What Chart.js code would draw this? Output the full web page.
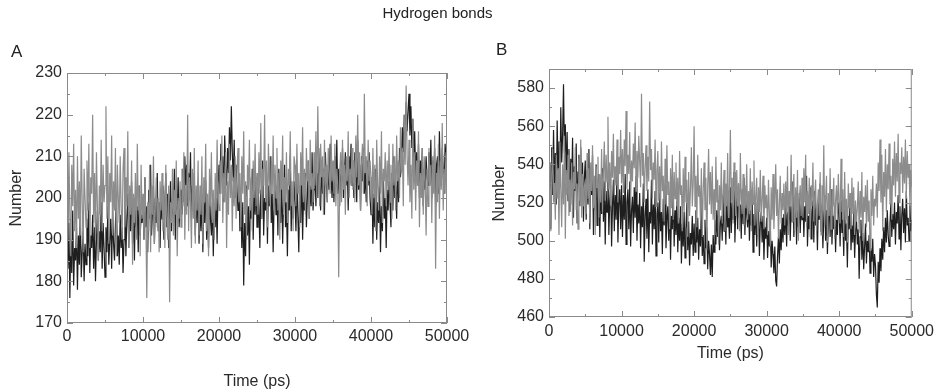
<!DOCTYPE html>
<html>
<head>
<meta charset="utf-8">
<script src="https://cdn.jsdelivr.net/npm/chart.js@4.4.0/dist/chart.umd.min.js"></script>
<style>
body{margin:0;background:#fff;font-family:"Liberation Sans",Arial,sans-serif;}
#wrap{position:relative;width:939px;height:391px;overflow:hidden;background:#fff;}
canvas{position:absolute;top:0;}
#chartA{left:0;}
#chartB{left:470px;}
.lbl{position:absolute;color:#222;line-height:1;}
</style>
</head>
<body>
<div id="wrap">
  <canvas id="chartA" width="480" height="391"></canvas>
  <canvas id="chartB" width="469" height="391"></canvas>
  <div class="lbl" style="left:0;width:875px;top:5px;text-align:center;font-size:15px;">Hydrogen bonds</div>
  <div class="lbl" style="left:11px;top:43px;font-size:17px;">A</div>
  <div class="lbl" style="left:496px;top:41px;font-size:17px;">B</div>
</div>
<script>
// sampling interval of the traces (ps)
const TIME_STEP = 125;

const X_TICKS = [0, 10000, 20000, 30000, 40000, 50000];
const A_Y_TICKS = [170, 180, 190, 200, 210, 220, 230];
const B_Y_TICKS = [460, 480, 500, 520, 540, 560, 580];

// panel A, black trace (one row = 2500 ps)
const hbondsA_black = [
    200,183,194,176,190,182,197,179,188,185,193,178,191,184,198,181,187,192,180,189,
    184,195,186,199,182,191,188,196,183,193,180,190,197,185,192,187,199,183,194,188,
    181,193,187,198,184,190,195,183,197,189,185,194,200,186,191,184,196,188,193,182,
    190,199,186,195,201,188,197,192,204,189,196,185,200,193,198,187,203,191,196,194,
    199,190,205,193,198,187,202,195,208,191,197,203,189,200,194,206,192,199,188,201,
    195,203,190,199,206,193,201,188,198,204,192,200,196,207,190,202,197,205,193,199,
    202,196,207,199,210,203,208,198,206,201,211,195,203,197,206,191,200,194,203,189,
    198,192,201,187,199,194,204,190,197,188,202,195,191,199,186,197,193,200,189,203,
    208,201,213,205,210,199,215,207,203,212,206,217,209,222,211,204,214,200,208,202,
    197,206,192,201,188,199,179,194,186,203,191,198,184,200,195,207,190,202,196,205,
    193,204,198,188,202,195,209,191,200,197,206,189,203,198,210,194,201,187,199,205,
    196,203,191,207,198,194,205,189,200,208,193,199,186,202,197,210,192,201,195,204,
    199,192,205,196,187,203,194,208,190,201,197,206,193,200,209,195,203,198,211,197,
    202,208,198,206,200,212,203,197,209,201,207,196,211,204,199,208,202,213,205,200,
    206,199,210,203,214,201,207,198,209,204,212,200,206,211,203,208,197,210,205,213,
    203,209,200,211,205,199,214,202,208,197,210,204,212,201,206,199,209,203,211,200,
    196,205,189,201,193,207,190,199,194,203,187,198,192,206,195,200,188,202,197,204,
    199,193,206,197,210,200,203,195,208,199,212,205,209,217,211,220,214,223,216,221,
    225,215,222,212,219,208,216,205,211,203,213,200,209,204,212,198,207,202,210,205,
    203,211,206,214,200,209,204,212,198,208,210,201,216,205,203,212,207,201,213,209,
    206
];

// panel A, grey trace
const hbondsA_grey = [
    205,190,211,196,186,208,198,213,192,202,188,210,195,204,191,215,199,187,207,200,
    193,209,197,213,188,205,201,220,194,206,190,211,198,185,203,196,214,192,208,199,
    203,222,195,210,189,206,199,215,191,204,197,212,186,208,200,194,210,198,190,207,
    212,193,205,198,216,188,203,196,209,184,201,194,206,190,213,197,203,186,208,195,
    201,190,205,195,176,199,192,208,187,203,196,210,189,198,205,193,200,187,204,197,
    206,192,201,188,208,196,190,203,175,199,194,207,191,202,196,209,186,200,195,204,
    193,207,198,211,190,203,196,220,192,205,199,188,207,195,212,189,203,197,209,191,
    203,196,210,189,205,199,213,192,201,186,207,198,211,194,202,190,206,197,214,200,
    197,209,201,215,194,206,199,211,188,204,196,213,200,208,192,205,198,210,195,207,
    212,199,206,193,210,201,216,196,204,190,208,202,214,197,205,192,209,200,213,198,
    206,196,211,201,218,195,207,203,220,199,209,193,213,204,198,210,201,215,197,208,
    200,212,197,206,190,209,202,215,196,205,199,211,194,207,203,216,198,204,192,210,
    208,198,213,201,206,193,211,203,217,199,207,196,212,204,209,195,214,202,206,199,
    211,203,216,200,222,207,198,213,205,210,196,214,203,208,199,212,206,201,215,204,
    209,201,213,198,207,203,181,205,211,199,214,202,208,196,210,204,216,200,207,203,
    212,202,209,199,215,205,220,203,211,197,208,213,201,225,206,210,198,214,204,209,
    205,196,212,200,208,192,214,203,197,210,201,216,194,207,204,211,198,209,202,213,
    199,208,195,213,203,210,197,215,204,209,200,217,206,212,198,220,208,227,210,203,
    214,199,208,195,219,202,211,197,209,203,216,193,206,200,212,196,210,204,191,207,
    198,212,203,208,194,210,201,215,183,206,199,213,195,209,202,218,197,207,201,211,
    205
];

// panel B, black trace
const hbondsB_black = [
    512,541,506,549,524,558,530,546,519,563,537,552,528,570,541,555,582,546,561,532,
    557,521,548,515,543,530,554,512,539,526,551,509,536,545,518,549,522,541,510,533,
    542,511,537,519,548,506,532,524,545,503,530,516,540,508,527,535,502,529,514,538,
    510,531,498,526,515,536,503,521,529,497,518,532,505,524,511,538,499,520,527,506,
    529,502,524,511,535,498,520,527,506,531,497,516,523,504,528,512,534,500,519,509,
    525,496,518,507,530,489,513,522,501,527,494,515,509,532,498,519,506,526,492,514,
    520,499,526,505,515,493,522,508,529,496,511,518,500,524,490,513,506,527,497,516,
    503,521,494,512,500,518,488,509,497,515,491,506,520,495,510,487,504,498,513,492,
    509,494,516,499,512,490,506,497,518,492,503,488,511,496,507,485,500,493,482,498,
    481,503,494,511,498,516,502,521,495,509,513,500,524,505,517,498,526,507,512,501,
    528,504,520,511,536,499,517,525,506,530,512,519,501,527,509,533,503,521,514,507,
    522,500,516,508,527,494,514,503,520,497,511,518,492,509,515,499,513,490,507,501,
    512,491,505,497,509,486,500,493,483,497,479,476,492,502,488,506,495,512,499,514,
    503,520,497,515,508,526,500,518,510,531,502,514,521,498,516,507,525,504,519,511,
    524,502,518,510,534,497,513,506,528,501,515,521,499,526,508,517,495,520,511,530,
    505,519,496,512,524,500,516,493,509,521,502,527,498,513,506,518,494,511,503,520,
    515,497,521,504,511,492,518,500,509,486,513,506,522,495,508,499,516,491,505,512,
    498,506,480,502,511,490,504,485,497,509,488,500,494,503,483,496,489,501,481,493,
    487,472,465,489,478,496,484,501,490,507,494,512,499,516,503,497,509,520,502,514,
    506,520,498,515,509,524,501,518,495,513,522,504,517,499,526,508,512,500,519,505,
    511
];

// panel B, grey trace
const hbondsB_grey = [
    512,541,505,534,548,520,530,511,545,522,538,503,552,527,507,540,519,555,501,537,
    524,545,513,532,519,541,508,536,527,549,516,530,506,543,521,553,512,535,518,529,
    531,514,546,522,538,509,541,526,550,517,534,503,539,528,544,512,535,520,548,515,
    536,552,521,545,531,565,527,541,518,547,533,556,524,539,529,553,520,544,535,558,
    530,548,525,553,539,568,527,545,535,557,522,542,531,551,538,562,526,547,533,555,
    541,528,577,534,546,520,539,550,526,544,531,573,537,548,522,541,532,553,518,536,
    547,521,539,515,552,526,534,510,543,519,550,524,531,506,538,517,545,511,536,522,
    541,518,533,509,547,524,529,505,538,515,544,520,532,502,536,513,527,549,518,530,
    560,518,534,507,545,523,529,511,538,502,526,541,516,533,495,528,548,519,536,514,
    539,511,527,503,544,520,532,498,529,516,541,509,524,537,505,530,518,546,512,527,
    558,520,533,509,541,525,513,537,518,530,505,546,522,514,535,508,529,517,540,511,
    526,514,538,505,531,519,542,508,524,533,503,528,515,537,510,522,534,506,529,517,
    524,503,532,515,497,528,511,535,506,521,540,513,527,501,519,534,509,525,516,530,
    508,531,514,539,503,526,518,545,510,523,535,505,528,512,537,500,522,529,513,533,
    512,538,520,545,507,526,514,533,502,529,518,541,510,524,532,505,519,527,513,536,
    503,529,516,550,508,522,534,499,525,513,538,506,527,518,533,501,521,529,511,535,
    520,509,543,515,527,502,536,511,522,499,530,517,525,506,533,514,528,503,521,510,
    517,531,504,526,512,536,500,523,515,529,507,532,510,521,495,527,513,534,508,522,
    518,530,512,541,526,553,520,545,505,536,523,548,515,540,527,551,519,534,511,543,
    529,552,523,546,531,556,520,541,535,549,525,544,530,553,522,547,533,540,518,537,
    528
];

const BLACK = '#1e1e1e';
const GREY = '#8c8c8c';
const FRAME_COLOR = '#8a8a8a';
const TEXT_COLOR = '#2a2a2a';
const FONT = '"Liberation Sans", Arial, sans-serif';

// frame round the plot with inward major/minor ticks on every side
const frameTicks = {
    id: 'frameTicks',
    afterDatasetsDraw(chart) {
        let ctx = chart.ctx;
        let area = chart.chartArea;
        let xs = chart.scales.x;
        let ys = chart.scales.y;
        ctx.save();
        ctx.strokeStyle = FRAME_COLOR;
        ctx.lineWidth = 1;
        ctx.strokeRect(area.left + 0.5, area.top + 0.5, area.right - area.left - 1, area.bottom - area.top - 1);
        ctx.beginPath();
        let xv = xs.ticks.map(t => t.value);
        let yv = ys.ticks.map(t => t.value);
        for (let i = 0; i < xv.length; i++) {
            let px = Math.round(xs.getPixelForValue(xv[i])) + 0.5;
            ctx.moveTo(px, area.bottom); ctx.lineTo(px, area.bottom - 6);
            ctx.moveTo(px, area.top); ctx.lineTo(px, area.top + 6);
            if (i < xv.length - 1) {
                let mx = Math.round(xs.getPixelForValue((xv[i] + xv[i + 1]) / 2)) + 0.5;
                ctx.moveTo(mx, area.bottom); ctx.lineTo(mx, area.bottom - 3);
                ctx.moveTo(mx, area.top); ctx.lineTo(mx, area.top + 3);
            }
        }
        for (let i = 0; i < yv.length; i++) {
            let py = Math.round(ys.getPixelForValue(yv[i])) + 0.5;
            ctx.moveTo(area.left, py); ctx.lineTo(area.left + 6, py);
            ctx.moveTo(area.right, py); ctx.lineTo(area.right - 6, py);
            if (i < yv.length - 1) {
                let my = Math.round(ys.getPixelForValue((yv[i] + yv[i + 1]) / 2)) + 0.5;
                ctx.moveTo(area.left, my); ctx.lineTo(area.left + 3, my);
                ctx.moveTo(area.right, my); ctx.lineTo(area.right - 3, my);
            }
        }
        ctx.stroke();
        ctx.restore();
    }
};

function toPoints(values){
    return values.map((v, i) => ({x: i * TIME_STEP, y: v}));
}

function makeOptions(p){
    return {
        responsive: false,
        animation: false,
        devicePixelRatio: 1,
        layout: {padding: p.padding},
        elements: {
            point: {radius: 0},
            line: {borderWidth: 1.2, tension: 0}
        },
        plugins: {
            legend: {display: false},
            tooltip: {enabled: false}
        },
        scales: {
            x: {
                type: 'linear',
                min: 0,
                max: 50000,
                afterBuildTicks: (scale) => { scale.ticks = X_TICKS.map(v => ({value: v})); },
                afterFit: (scale) => { scale.height = p.xHeight; },
                grid: {display: false, drawTicks: false},
                border: {display: false},
                ticks: {
                    color: TEXT_COLOR,
                    font: {family: FONT, size: 16},
                    padding: p.xPad,
                    maxRotation: 0,
                    minRotation: 0,
                    callback: (v) => String(v)
                },
                title: {
                    display: true,
                    text: 'Time (ps)',
                    color: TEXT_COLOR,
                    font: {family: FONT, size: 16},
                    padding: 0
                }
            },
            y: {
                min: p.yMin,
                max: p.yMax,
                afterBuildTicks: (scale) => { scale.ticks = p.yTicks.map(v => ({value: v})); },
                afterFit: (scale) => { scale.width = p.yWidth; },
                grid: {display: false, drawTicks: false},
                border: {display: false},
                ticks: {
                    color: TEXT_COLOR,
                    font: {family: FONT, size: 16},
                    padding: 5
                },
                title: {
                    display: true,
                    text: 'Number',
                    color: TEXT_COLOR,
                    font: {family: FONT, size: 16},
                    padding: 0
                }
            }
        }
    };
}

function drawPanel(id, grey, black, p){
    let ctx = document.getElementById(id).getContext('2d');
    return new Chart(ctx, {
        type: 'line',
        data: {
            datasets: [
                {label: 'grey', data: toPoints(grey), borderColor: GREY},
                {label: 'black', data: toPoints(black), borderColor: BLACK}
            ]
        },
        options: makeOptions(p),
        plugins: [frameTicks]
    });
}

window.onload = function(){
    window.HBChartA = drawPanel('chartA', hbondsA_grey, hbondsA_black, {
        yMin: 170, yMax: 230, yTicks: A_Y_TICKS,
        padding: {left: 7, top: 73, right: 33, bottom: 0},
        yWidth: 60, xHeight: 68, xPad: 4
    });
    window.HBChartB = drawPanel('chartB', hbondsB_grey, hbondsB_black, {
        yMin: 460, yMax: 590, yTicks: B_Y_TICKS,
        padding: {left: 20, top: 69, right: 24, bottom: 28},
        yWidth: 59, xHeight: 46, xPad: 5
    });
};
</script>
</body>
</html>
